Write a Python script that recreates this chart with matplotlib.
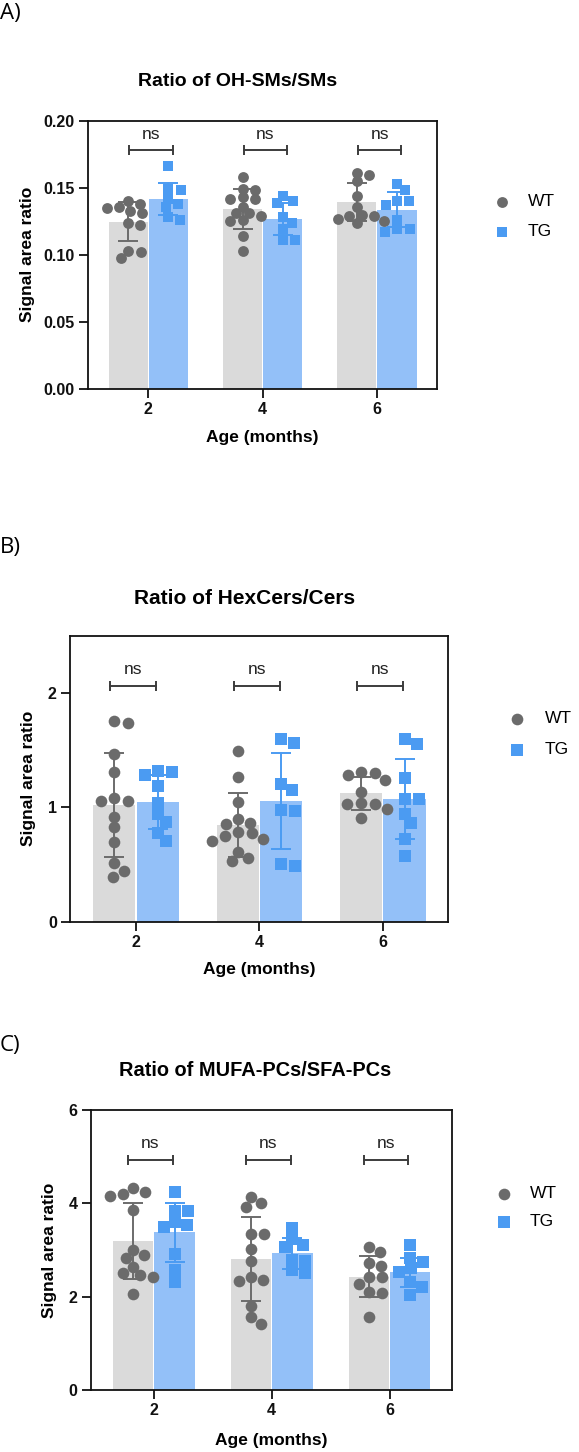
import numpy as np
import matplotlib
matplotlib.use('Agg')
import matplotlib.pyplot as plt
from matplotlib.lines import Line2D

plt.rcParams['font.family'] = ['Liberation Sans', 'DejaVu Sans']

# ---------------- data ----------------
ages = ['2', '4', '6']
groups = ['WT', 'TG']

# Panel A: Ratio of OH-SMs/SMs
oh_wt = [[0.140, 0.138, 0.136, 0.135, 0.133, 0.131, 0.124, 0.122, 0.103, 0.102, 0.098],
         [0.158, 0.149, 0.148, 0.143, 0.142, 0.142, 0.136, 0.131, 0.131, 0.129, 0.126, 0.125, 0.114, 0.103],
         [0.161, 0.1595, 0.155, 0.144, 0.1355, 0.130, 0.129, 0.129, 0.127, 0.1255, 0.1235]]
oh_tg = [[0.166, 0.149, 0.148, 0.142, 0.138, 0.136, 0.1285, 0.126],
         [0.1436, 0.140, 0.1384, 0.128, 0.124, 0.1194, 0.1114, 0.1114],
         [0.1528, 0.1484, 0.1404, 0.1399, 0.1374, 0.126, 0.1194, 0.1194, 0.1174]]
oh_wt_mean = [0.1248, 0.1342, 0.1392]
oh_wt_sd = [0.0145, 0.0150, 0.0142]
oh_tg_mean = [0.1417, 0.1268, 0.1335]
oh_tg_sd = [0.0120, 0.0120, 0.0130]

# Panel B: Ratio of HexCers/Cers
hex_wt = [[1.757, 1.743, 1.468, 1.31, 1.08, 1.055, 1.055, 0.92, 0.826, 0.695, 0.511, 0.447, 0.389],
          [1.497, 1.264, 1.045, 0.899, 0.861, 0.855, 0.783, 0.774, 0.753, 0.724, 0.709, 0.613, 0.555, 0.534],
          [1.314, 1.299, 1.285, 1.241, 1.138, 1.037, 1.028, 1.028, 0.984, 0.911]]
hex_tg = [[1.322, 1.314, 1.285, 1.188, 1.037, 0.940, 0.870, 0.779, 0.709],
          [1.600, 1.562, 1.206, 1.153, 0.978, 0.969, 0.505, 0.488],
          [1.600, 1.556, 1.256, 1.072, 1.072, 0.943, 0.867, 0.724, 0.575]]
hex_wt_mean = [1.022, 0.847, 1.124]
hex_wt_sd = [0.455, 0.280, 0.146]
hex_tg_mean = [1.045, 1.057, 1.072]
hex_tg_sd = [0.237, 0.420, 0.350]

# Panel C: Ratio of MUFA-PCs/SFA-PCs
mufa_wt = [[4.335, 4.235, 4.193, 4.157, 3.857, 3.0, 2.893, 2.821, 2.643, 2.514, 2.464, 2.414, 2.057],
           [4.128, 4.0, 3.928, 3.343, 3.336, 3.021, 2.771, 2.429, 2.357, 2.336, 1.807, 1.557, 1.414],
           [3.057, 2.95, 2.714, 2.657, 2.414, 2.414, 2.271, 2.107, 2.086, 1.571]]
mufa_tg = [[4.235, 3.843, 3.843, 3.607, 3.536, 3.486, 2.914, 2.571, 2.321],
           [3.478, 3.228, 3.107, 3.057, 2.786, 2.771, 2.571, 2.5],
           [3.107, 2.821, 2.75, 2.607, 2.536, 2.321, 2.214, 2.036]]
mufa_wt_mean = [3.193, 2.807, 2.429]
mufa_wt_sd = [0.82, 0.91, 0.435]
mufa_tg_mean = [3.378, 2.928, 2.521]
mufa_tg_sd = [0.63, 0.33, 0.315]

sig_labels = ['ns', 'ns', 'ns']

# ---------------- style ----------------
W, H = 579, 1452
fig = plt.figure(figsize=(W / 100, H / 100), dpi=100)

WT_BAR = '#dadada'
WT_PT = '#6b6b6b'
TG_BAR = '#93c0f8'
TG_PT = '#4b9bf2'
BRK = '#3c3c3c'
BW = 0.343
OFF = 0.176


def rect(l, t, r, b):
    return [l / W, 1 - b / H, (r - l) / W, (b - t) / H]


def swarm(ax, xc, ys, dxmin, dymin):
    """Simple anisotropic beeswarm in pixel space; returns x positions."""
    tr = ax.transData
    ppu = tr.transform((1, 0))[0] - tr.transform((0, 0))[0]
    order = np.argsort(-np.asarray(ys), kind='stable')
    placed = []
    xs = np.zeros(len(ys))

    def ok(c, y):
        return all(((c - px) / dxmin) ** 2 + ((y - py) / dymin) ** 2 >= 1 - 1e-6
                   for px, py in placed)

    for i in order:
        y = tr.transform((xc, ys[i]))[1]
        cands = [0.0]
        for px, py in placed:
            dy = (y - py) / dymin
            if abs(dy) < 1:
                dx = dxmin * np.sqrt(1 - dy ** 2)
                cands += [px + dx, px - dx]
        cands.sort(key=abs)
        chosen = None
        for c in cands:
            if ok(c, y):
                chosen = c
                break
        if chosen is None:
            chosen = max(abs(c) for c in cands) + dxmin
        placed.append((chosen, y))
        xs[i] = xc + chosen / ppu
    return xs


panels = [
    dict(wt=oh_wt, tg=oh_tg, wtm=oh_wt_mean, wts=oh_wt_sd, tgm=oh_tg_mean, tgs=oh_tg_sd,
         rect=(88, 120.7, 437, 389), xlim=(-0.528, 2.526), ylim=(0, 0.2),
         yticks=[0, 0.05, 0.10, 0.15, 0.20], ylabels=['0.00', '0.05', '0.10', '0.15', '0.20'],
         title='Ratio of OH-SMs/SMs', title_xy=(237.5, 82), tsize=14,
         letter='A)', letter_y=14, ms_c=7.8, ms_s=7.4, dx=12.5, dy=8.0,
         br_y=0.1783, ns_y=0.1863, br=(-0.165, 0.215), xpad=9,
         ylab_x=-0.152, leg=(502, 202, 232, 528)),
    dict(wt=hex_wt, tg=hex_tg, wtm=hex_wt_mean, wts=hex_wt_sd, tgm=hex_tg_mean, tgs=hex_tg_sd,
         rect=(70, 636, 448, 921.7), xlim=(-0.535, 2.528), ylim=(0, 2.5),
         yticks=[0, 1, 2], ylabels=['0', '1', '2'],
         title='Ratio of HexCers/Cers', title_xy=(245, 598), tsize=15,
         letter='B)', letter_y=548, ms_c=8.4, ms_s=8.0, dx=14.0, dy=10.0,
         br_y=2.064, ns_y=2.166, br=(-0.21, 0.165), xpad=9,
         ylab_x=-0.09, leg=(517, 719, 750, 545)),
    dict(wt=mufa_wt, tg=mufa_tg, wtm=mufa_wt_mean, wts=mufa_wt_sd, tgm=mufa_tg_mean, tgs=mufa_tg_sd,
         rect=(90.7, 1110, 452, 1390), xlim=(-0.535, 2.53), ylim=(0, 6),
         yticks=[0, 2, 4, 6], ylabels=['0', '2', '4', '6'],
         title='Ratio of MUFA-PCs/SFA-PCs', title_xy=(255.5, 1070.7), tsize=14.4,
         letter='C)', letter_y=1045, ms_c=8.4, ms_s=8.0, dx=13.0, dy=10.0,
         br_y=4.93, ns_y=5.18, br=(-0.22, 0.16), xpad=11,
         ylab_x=-0.093, leg=(504, 1194, 1222, 530)),
]

for p in panels:
    ax = fig.add_axes(rect(*p['rect']))
    ax.set_xlim(*p['xlim'])
    ax.set_ylim(*p['ylim'])
    x = np.arange(len(ages))

    ax.bar(x - OFF, p['wtm'], width=BW, color=WT_BAR, zorder=1)
    ax.bar(x + OFF, p['tgm'], width=BW, color=TG_BAR, zorder=1)

    for i in range(len(ages)):
        xs = swarm(ax, x[i] - OFF, p['wt'][i], p['dx'], p['dy'])
        ax.plot(xs, p['wt'][i], 'o', color=WT_PT, ms=p['ms_c'], mew=0, zorder=3)
        xs = swarm(ax, x[i] + OFF, p['tg'][i], p['dx'], p['dy'])
        ax.plot(xs, p['tg'][i], 's', color=TG_PT, ms=p['ms_s'], mew=0, zorder=3)

    ax.errorbar(x - OFF, p['wtm'], yerr=p['wts'], fmt='none', ecolor=WT_PT,
                elinewidth=1.4, capsize=7.5, capthick=1.4, zorder=4)
    ax.errorbar(x + OFF, p['tgm'], yerr=p['tgs'], fmt='none', ecolor=TG_PT,
                elinewidth=1.4, capsize=7.5, capthick=1.4, zorder=4)

    for i in range(len(ages)):
        x1, x2 = x[i] + p['br'][0], x[i] + p['br'][1]
        ax.plot([x1, x2], [p['br_y'], p['br_y']], color=BRK, lw=1.4,
                marker='|', ms=7, mew=1.4, zorder=5, clip_on=False)
        ax.text((x1 + x2) / 2, p['ns_y'], sig_labels[i], ha='center', va='baseline',
                fontsize=12.5, color='#222222')

    ax.set_xticks(x)
    ax.set_xticklabels(ages, fontsize=11.5, fontweight='bold')
    ax.set_yticks(p['yticks'])
    ax.set_yticklabels(p['ylabels'], fontsize=11.5, fontweight='bold')
    ax.tick_params(direction='out', length=6.5, width=1.3, pad=3, colors='#111111')
    for s in ax.spines.values():
        s.set_linewidth(1.3)
        s.set_color('#111111')

    ax.set_ylabel('Signal area ratio', fontsize=12.5, fontweight='bold')
    ax.yaxis.set_label_coords(p['ylab_x'], 0.5)
    ax.set_xlabel('Age (months)', fontsize=12.5, fontweight='bold', labelpad=p['xpad'])

    fig.text(p['title_xy'][0] / W, 1 - p['title_xy'][1] / H, p['title'],
             ha='center', va='center', fontsize=p['tsize'], fontweight='bold')
    fig.text(0.0, 1 - p['letter_y'] / H, p['letter'], ha='left', va='center',
             fontsize=16, family=['Open Sans', 'DejaVu Sans'])

    lx, ly1, ly2, tx = p['leg']
    fig.add_artist(Line2D([lx / W], [1 - ly1 / H], marker='o', color=WT_PT, ms=p['ms_c'],
                          mew=0, ls='none', transform=fig.transFigure))
    fig.add_artist(Line2D([lx / W], [1 - ly2 / H], marker='s', color=TG_PT, ms=p['ms_s'],
                          mew=0, ls='none', transform=fig.transFigure))
    fig.text(tx / W, 1 - ly1 / H, groups[0], ha='left', va='center', fontsize=12.5)
    fig.text(tx / W, 1 - ly2 / H, groups[1], ha='left', va='center', fontsize=12.5)

fig.savefig('out.png', dpi=100)
